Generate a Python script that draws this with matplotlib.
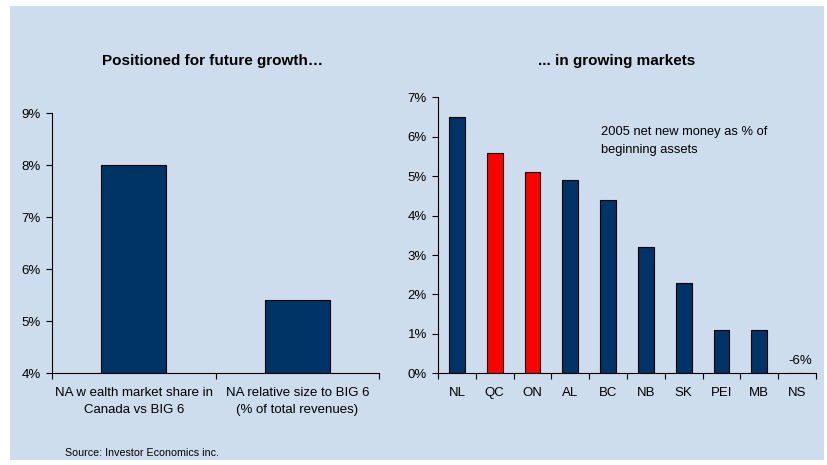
import matplotlib
matplotlib.use('Agg')
import matplotlib.pyplot as plt
from matplotlib.patches import Rectangle
from matplotlib.ticker import FuncFormatter, FixedLocator

plt.rcParams['font.family'] = ['Liberation Sans', 'DejaVu Sans']

# left panel: NA positioning
left_labels = ['NA w ealth market share in\nCanada vs BIG 6', 'NA relative size to BIG 6\n(% of total revenues)']
left_values = [8.0, 5.4]

# right panel: 2005 net new money by province
provinces = ['NL', 'QC', 'ON', 'AL', 'BC', 'NB', 'SK', 'PEI', 'MB', 'NS']
net_new_money = [6.5, 5.6, 5.1, 4.9, 4.4, 3.2, 2.3, 1.1, 1.1, -6.0]
highlight = ['QC', 'ON']

navy = '#003366'
red = '#ff0000'
panel_bg = '#cddded'

W, H = 827, 465
fig = plt.figure(figsize=(W / 100, H / 100), dpi=100)
fig.patch.set_facecolor('white')
fig.add_artist(Rectangle((10 / W, 5 / H), 814 / W, 454 / H, transform=fig.transFigure,
                         facecolor=panel_bg, edgecolor='none', zorder=-10))

pct = FuncFormatter(lambda v, _: f'{v:.0f}%')


def style_axes(ax):
    ax.set_facecolor('none')
    for s in ['top', 'right']:
        ax.spines[s].set_visible(False)
    for s in ['left', 'bottom']:
        ax.spines[s].set_linewidth(0.8)
    ax.yaxis.set_major_formatter(pct)
    ax.tick_params(axis='y', length=4, width=0.8, labelsize=9.5, pad=4)
    ax.tick_params(axis='x', which='major', length=0, labelsize=9.5, pad=10)
    ax.tick_params(axis='x', which='minor', length=4, width=0.8, direction='out')


# left chart
ax1 = fig.add_axes([52 / W, 1 - 373 / H, (379 - 52) / W, (373 - 113) / H])
x1 = range(len(left_values))
ax1.bar(x1, [v - 4 for v in left_values], bottom=4, width=0.4, color=navy,
        edgecolor='black', linewidth=0.8, zorder=3)
ax1.set_xlim(-0.5, 1.5)
ax1.set_ylim(4, 9)
ax1.set_yticks(range(4, 10))
ax1.set_xticks(list(x1))
ax1.set_xticklabels(left_labels, linespacing=1.6)
ax1.xaxis.set_minor_locator(FixedLocator([-0.5, 0.5, 1.5]))
style_axes(ax1)
fig.text(213 / W, 1 - 61 / H, 'Positioned for future growth…', ha='center', va='center',
         fontsize=11, fontweight='bold')

# right chart
ax2 = fig.add_axes([438 / W, 1 - 373.3 / H, (816 - 438) / W, (373.3 - 97.3) / H])
x2 = range(len(provinces))
colors = [red if p in highlight else navy for p in provinces]
ax2.bar(x2, net_new_money, width=0.42, color=colors, edgecolor='black', linewidth=0.8, zorder=3)
ax2.set_xlim(-0.5, len(provinces) - 0.5)
ax2.set_ylim(0, 7)
ax2.set_yticks(range(0, 8))
ax2.set_xticks(list(x2))
ax2.set_xticklabels(provinces)
ax2.xaxis.set_minor_locator(FixedLocator([i - 0.5 for i in range(len(provinces) + 1)]))
style_axes(ax2)
ns = provinces.index('NS')
ax2.text(ns + 0.08, 0.3, f'{net_new_money[ns]:.0f}%', ha='center', va='center', fontsize=9.5)
ax2.text(3.81, 5.9, '2005 net new money as % of\nbeginning assets', ha='left', va='center',
         fontsize=9.3, linespacing=1.65)
fig.text(617 / W, 1 - 61 / H, '... in growing markets', ha='center', va='center',
         fontsize=11, fontweight='bold')

fig.text(65 / W, 1 - 453 / H, 'Source: Investor Economics inc.', ha='left', va='center', fontsize=7.7)

fig.savefig('out.png', dpi=100)
